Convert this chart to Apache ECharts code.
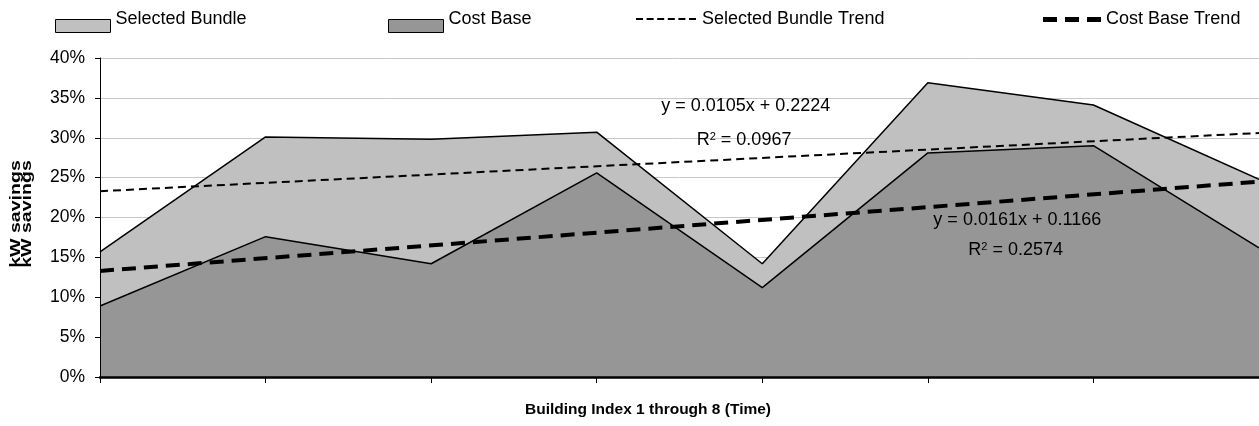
<!DOCTYPE html>
<html>
<head>
<meta charset="utf-8">
<script src="https://cdn.jsdelivr.net/npm/echarts@6/dist/echarts.min.js"></script>
<style>
html,body{margin:0;padding:0;background:#fff;}
#chart{width:1259px;height:426px;}
</style>
</head>
<body>
<div id="chart"></div>
<script>
// ---- data ----
var buildingIndex = [1, 2, 3, 4, 5, 6, 7, 8];
var selectedBundle = [0.157, 0.301, 0.298, 0.307, 0.142, 0.369, 0.341, 0.248];
var costBase = [0.089, 0.176, 0.142, 0.256, 0.112, 0.281, 0.290, 0.162];
var trendX = [1, 8];
var selectedBundleTrend = [0.233, 0.306];
var costBaseTrend = [0.133, 0.245];
var seriesNames = ['Selected Bundle', 'Cost Base', 'Selected Bundle Trend', 'Cost Base Trend'];
var selectedTrendEq = ['y = 0.0105x + 0.2224', '0.0967'];
var costTrendEq = ['y = 0.0161x + 0.1166', '0.2574'];
var yTicks = [0, 0.05, 0.10, 0.15, 0.20, 0.25, 0.30, 0.35, 0.40];
var xTitle = 'Building Index 1 through 8 (Time)';
var yTitle = 'kW savings';

function pairs(xs, ys) { return xs.map(function (x, i) { return [x, ys[i]]; }); }

var FONT = "'Liberation Sans', Arial, sans-serif";
var chart = echarts.init(document.getElementById('chart'), null, {renderer: 'canvas'});

var boxIcon = 'path://M0,0 M0,13 L55,13 L55,26 L0,26 Z';
var thinIcon = 'path://M0,0 M0,12h7v2h-7z M10.6,12h7v2h-7z M21.2,12h7v2h-7z M31.8,12h7v2h-7z M42.4,12h7v2h-7z M53,12h7v2h-7z M60,26';
var thickIcon = 'path://M0,0 M0,11h14v5h-14z M22,11h14v5h-14z M44,11h14v5h-14z M58,26';

function legend(left, name, icon, w, style) {
  return {
    left: left, top: 6, padding: 0, itemWidth: w, itemHeight: 26,
    textStyle: {fontFamily: FONT, fontSize: 18, color: '#000'},
    data: [{name: name, icon: icon, itemStyle: style}]
  };
}

function eqLabel(x, y, text) {
  return {
    coord: [x, y], symbol: 'circle', symbolSize: 1,
    itemStyle: {color: 'rgba(0,0,0,0)'},
    label: {show: true, position: 'inside', formatter: text,
      color: '#000', fontFamily: FONT, fontSize: 18,
      rich: {s: {fontSize: 11, verticalAlign: 'top', color: '#000', fontFamily: FONT}, a: {fontSize: 18, color: '#000', fontFamily: FONT}}}
  };
}

var option = {
  backgroundColor: '#fff',
  animation: false,
  textStyle: {fontFamily: FONT},
  legend: [
    legend(55, seriesNames[0], boxIcon, 55, {color: '#c0c0c0', borderColor: '#000', borderWidth: 1}),
    legend(388, seriesNames[1], boxIcon, 55, {color: '#969696', borderColor: '#000', borderWidth: 1}),
    legend(636, seriesNames[2], thinIcon, 62, {color: '#000', borderWidth: 0}),
    legend(1043, seriesNames[3], thickIcon, 58, {color: '#000', borderWidth: 0})
  ],
  grid: {left: 100, right: 0, top: 58, bottom: 49, containLabel: false},
  xAxis: {
    type: 'value', min: buildingIndex[0], max: buildingIndex[buildingIndex.length - 1], interval: 1,
    z: 5,
    axisLine: {show: true, onZero: false, lineStyle: {color: '#000', width: 2.5}},
    axisTick: {show: true, length: 6, lineStyle: {color: '#000', width: 1}},
    axisLabel: {show: false},
    splitLine: {show: false}
  },
  yAxis: [{
    type: 'value', min: yTicks[0], max: yTicks[yTicks.length - 1], interval: 0.05,
    axisLine: {show: false}, axisTick: {show: false}, axisLabel: {show: false},
    splitLine: {show: true, lineStyle: {color: '#c8c8c8', width: 1}}
  }, {
    type: 'value', position: 'left', min: yTicks[0], max: yTicks[yTicks.length - 1], interval: 0.05,
    z: 5,
    axisLine: {show: true, lineStyle: {color: '#000', width: 1}},
    axisTick: {show: true, length: 5, lineStyle: {color: '#000'}},
    axisLabel: {margin: 15, fontFamily: FONT, fontSize: 17.5, color: '#000',
      formatter: function (v) { return Math.round(v * 100) + '%'; }},
    splitLine: {show: false}
  }],
  series: [{
    name: seriesNames[0], type: 'line', data: pairs(buildingIndex, selectedBundle),
    symbol: 'none', color: '#c0c0c0',
    lineStyle: {color: '#000', width: 1.5},
    areaStyle: {color: '#c0c0c0', opacity: 1},
    z: 2
  }, {
    name: seriesNames[1], type: 'line', data: pairs(buildingIndex, costBase),
    symbol: 'none', color: '#969696',
    lineStyle: {color: '#000', width: 1.5},
    areaStyle: {color: '#969696', opacity: 1},
    z: 3
  }, {
    name: seriesNames[2], type: 'line', data: pairs(trendX, selectedBundleTrend),
    symbol: 'none', color: '#000',
    lineStyle: {color: '#000', width: 2, type: [8, 5], cap: 'butt'},
    z: 4,
    markPoint: {data: [
      eqLabel(4.90, 0.340, selectedTrendEq[0]),
      eqLabel(4.89, 0.297, '{a|R}{s|2}{a| = ' + selectedTrendEq[1] + '}')
    ]}
  }, {
    name: seriesNames[3], type: 'line', data: pairs(trendX, costBaseTrend),
    symbol: 'none', color: '#000',
    lineStyle: {color: '#000', width: 4, type: [14, 8], cap: 'butt'},
    z: 4,
    markPoint: {data: [
      eqLabel(6.54, 0.197, costTrendEq[0]),
      eqLabel(6.53, 0.159, '{a|R}{s|2}{a| = ' + costTrendEq[1] + '}')
    ]}
  }],
  graphic: [
    {type: 'text', x: 648, y: 410, style: {text: xTitle, font: 'bold 15.5px ' + FONT, fill: '#000', textAlign: 'center', textVerticalAlign: 'middle'}},
    {type: 'text', x: 16, y: 214, rotation: Math.PI / 2, scaleX: 1.15, scaleY: 0.85, style: {text: yTitle, font: 'bold 17px ' + FONT, fill: '#000', textAlign: 'center', textVerticalAlign: 'middle'}},
    {type: 'text', x: 27, y: 214, rotation: Math.PI / 2, scaleX: 1.15, scaleY: 0.85, style: {text: yTitle, font: 'bold 17px ' + FONT, fill: '#000', textAlign: 'center', textVerticalAlign: 'middle'}}
  ]
};
chart.setOption(option);
</script>
</body>
</html>
